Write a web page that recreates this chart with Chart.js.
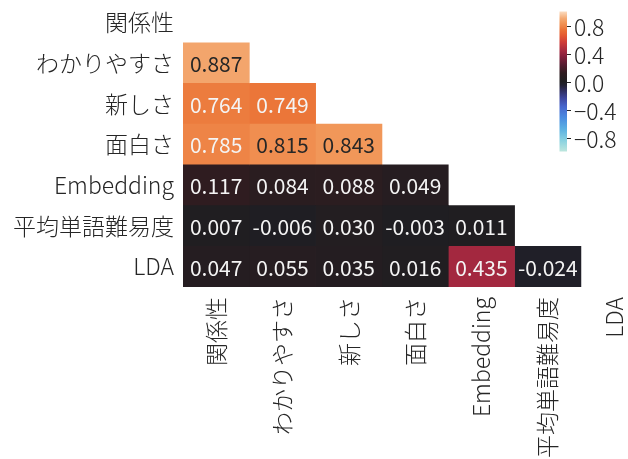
<!DOCTYPE html>
<html>
<head>
<meta charset="utf-8">
<script src="https://cdn.jsdelivr.net/npm/chart.js@4.4.1/dist/chart.umd.min.js"></script>
<style>
  html, body { margin: 0; padding: 0; background: #fff; }
  #wrap { width: 628px; height: 459px; }
</style>
</head>
<body>
<div id="wrap"><canvas id="corrChart"></canvas></div>
<script>
// ---- data ----
const rowLabels = ['関係性', 'わかりやすさ', '新しさ', '面白さ', 'Embedding', '平均単語難易度', 'LDA'];
const colLabels = ['関係性', 'わかりやすさ', '新しさ', '面白さ', 'Embedding', '平均単語難易度', 'LDA'];

// lower triangle of the correlation matrix (row i, columns 0..i-1)
const corrLower = [
  [],
  [0.887],
  [0.764, 0.749],
  [0.785, 0.815, 0.843],
  [0.117, 0.084, 0.088, 0.049],
  [0.007, -0.006, 0.030, -0.003, 0.011],
  [0.047, 0.055, 0.035, 0.016, 0.435, -0.024]
];

const cbTicks = [0.8, 0.4, 0.0, -0.4, -0.8];
const vmin = -1, vmax = 1;

// ---- icefire-like colormap ----
const iceStops = [
  [0.00, '#bde6dd'], [0.08, '#88d1e0'], [0.16, '#5cb1e2'], [0.24, '#4a8ce0'],
  [0.32, '#4766cd'], [0.38, '#3e479e'], [0.44, '#2e2d5a'], [0.475, '#222130'],
  [0.50, '#1f1e21'], [0.56, '#2f1c20'], [0.62, '#561c30'], [0.68, '#86203c'],
  [0.72, '#a5293f'], [0.78, '#cf3c38'], [0.83, '#e45a31'], [0.87, '#ea7236'],
  [0.89, '#ee8244'], [0.92, '#f19658'], [0.95, '#f4a972'], [1.00, '#fbdcc0']
];

function hexRgb(h) {
  return [parseInt(h.substr(1, 2), 16), parseInt(h.substr(3, 2), 16), parseInt(h.substr(5, 2), 16)];
}

function cmapRgb(v) {
  let t = (v - vmin) / (vmax - vmin);
  t = Math.max(0, Math.min(1, t));
  for (let k = 1; k < iceStops.length; k++) {
    if (t <= iceStops[k][0]) {
      const [t0, c0] = iceStops[k - 1];
      const [t1, c1] = iceStops[k];
      const f = (t - t0) / (t1 - t0);
      const a = hexRgb(c0), b = hexRgb(c1);
      return a.map((x, n) => Math.round(x + (b[n] - x) * f));
    }
  }
  return hexRgb(iceStops[iceStops.length - 1][1]);
}

function cellColor(v) {
  const c = cmapRgb(v);
  return `rgb(${c[0]},${c[1]},${c[2]})`;
}

// dark text on light cells, white text on dark ones (relative luminance)
function textColor(v) {
  const lum = cmapRgb(v).map(x => {
    x /= 255;
    return x <= 0.03928 ? x / 12.92 : Math.pow((x + 0.055) / 1.055, 2.4);
  });
  const L = 0.2126 * lum[0] + 0.7152 * lum[1] + 0.0722 * lum[2];
  return L > 0.36 ? '#262626' : '#f4f4f4';
}

const FONT = "'Noto Sans CJK JP', 'Noto Sans', sans-serif";

// ---- cell annotations ----
const annotatePlugin = {
  id: 'annotate',
  afterDatasetsDraw(chart) {
    const ctx = chart.ctx;
    ctx.save();
    ctx.font = `21px ${FONT}`;
    ctx.textAlign = 'center';
    ctx.textBaseline = 'middle';
    chart.data.datasets.forEach((ds, j) => {
      const meta = chart.getDatasetMeta(j);
      meta.data.forEach((el, i) => {
        if (ds.data[i] == null) return;
        const v = corrLower[i][j];
        const p = el.getCenterPoint();
        ctx.fillStyle = textColor(v);
        ctx.fillText(v.toFixed(3), p.x, p.y + 1);
      });
    });
    ctx.restore();
  }
};

// ---- colour bar ----
const colorbarPlugin = {
  id: 'colorbar',
  afterDraw(chart) {
    const ctx = chart.ctx;
    const x0 = 559.5, w = 7.5, top = 11.5, bottom = 151.5;
    const yOf = v => bottom - (v - vmin) / (vmax - vmin) * (bottom - top);
    const grad = ctx.createLinearGradient(0, bottom, 0, top);
    iceStops.forEach(([t, c]) => grad.addColorStop(t, c));
    ctx.save();
    ctx.fillStyle = grad;
    ctx.fillRect(x0, top, w, bottom - top);
    ctx.strokeStyle = '#262626';
    ctx.lineWidth = 1;
    ctx.fillStyle = '#262626';
    ctx.font = `300 23px ${FONT}`;
    ctx.textAlign = 'left';
    ctx.textBaseline = 'middle';
    cbTicks.forEach(v => {
      const y = Math.round(yOf(v)) + 0.5;
      ctx.beginPath();
      ctx.moveTo(x0 + w, y);
      ctx.lineTo(x0 + w + 4, y);
      ctx.stroke();
      const txt = v < 0 ? '\u2212' + Math.abs(v).toFixed(1) : v.toFixed(1);
      ctx.fillText(txt, x0 + w + 7, y + 1);
    });
    ctx.restore();
  }
};

// one floating-bar dataset per column; row i gets a cell when i > j
const datasets = colLabels.slice(0, colLabels.length - 1).map((name, j) => ({
  label: name,
  data: rowLabels.map((_, i) => (i > j ? [j, j + 1] : null)),
  backgroundColor: ctx => {
    const row = corrLower[ctx.dataIndex];
    return row && row[j] != null ? cellColor(row[j]) : 'rgba(0,0,0,0)';
  },
  borderWidth: 0,
  barPercentage: 1,
  categoryPercentage: 1,
  grouped: false
}));

new Chart(document.getElementById('corrChart'), {
  type: 'bar',
  data: { labels: rowLabels, datasets: datasets },
  options: {
    indexAxis: 'y',
    responsive: true,
    maintainAspectRatio: false,
    animation: false,
    layout: { padding: { top: 2, left: 0, right: 0, bottom: 0 } },
    plugins: {
      legend: { display: false },
      tooltip: { enabled: false }
    },
    scales: {
      x: {
        type: 'linear',
        min: 0,
        max: 6.71,
        grid: { display: false, drawTicks: false },
        border: { display: false },
        afterBuildTicks: s => { s.ticks = colLabels.map((_, i) => ({ value: i + 0.5 })); },
        afterFit: s => {
          s.height = 172;
          s.paddingLeft = 0;
          s.paddingRight = 0;
        },
        ticks: {
          autoSkip: false,
          minRotation: 90,
          maxRotation: 90,
          padding: 10,
          color: '#262626',
          font: { family: FONT, size: 23, weight: 300 },
          callback: (v, i) => colLabels[i]
        }
      },
      y: {
        type: 'category',
        grid: { display: false, drawTicks: false },
        border: { display: false },
        afterFit: s => {
          s.width = 183;
          s.paddingTop = 0;
          s.paddingBottom = 0;
        },
        ticks: {
          autoSkip: false,
          padding: 9,
          color: '#262626',
          font: { family: FONT, size: 23, weight: 300 }
        }
      }
    }
  },
  plugins: [annotatePlugin, colorbarPlugin]
});
</script>
</body>
</html>
